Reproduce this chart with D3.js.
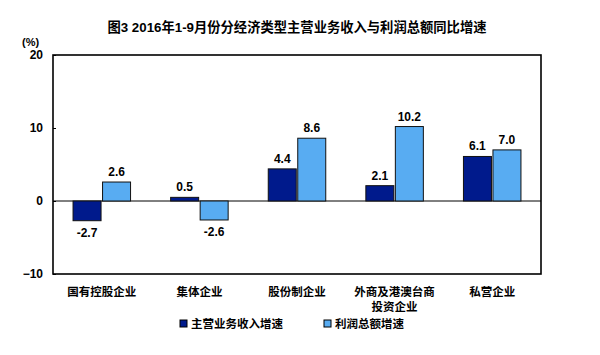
<!DOCTYPE html>
<html><head><meta charset="utf-8">
<script src="https://cdn.jsdelivr.net/npm/d3@7"></script>
<style>
html,body{margin:0;padding:0;background:#fff;}
text{font-family:"Liberation Sans","Noto Sans CJK SC",sans-serif;}
</style></head>
<body>
<svg id="c" width="600" height="355"></svg>
<script>
const categories = ["国有控股企业","集体企业","股份制企业","外商及港澳台商|投资企业","私营企业"];
const revenueGrowth = [-2.7, 0.5, 4.4, 2.1, 6.1];
const profitGrowth = [2.6, -2.6, 8.6, 10.2, 7.0];
const seriesNames = ["主营业务收入增速","利润总额增速"];
const yTicks = [20, 10, 0, -10];
const title = "图3 2016年1-9月份分经济类型主营业务收入与利润总额同比增速";

const colors = ["#001a8c", "#58acf2"];
const svg = d3.select("#c");
const m = {left:53, right:541, top:55, bottom:274};

const x = d3.scaleBand().domain(categories).range([m.left, m.right]);
const y = d3.scaleLinear().domain([-10, 20]).range([m.bottom, m.top]);
const barW = 28, gap = 1.5;

svg.append("rect").attr("width",600).attr("height",355).attr("fill","#fff");

// title
svg.append("text").attr("x",297).attr("y",32).attr("text-anchor","middle")
  .attr("font-size",13.3).attr("font-weight","bold").text(title);

// unit
svg.append("text").attr("x",22).attr("y",46).attr("font-size",11).attr("font-weight","bold").text("(%)");

// zero line
svg.append("line").attr("x1",m.left).attr("x2",m.right).attr("y1",y(0)).attr("y2",y(0))
  .attr("stroke","#000").attr("stroke-width",1);

// bars
const series = [revenueGrowth, profitGrowth];
series.forEach((vals, si) => {
  const g = svg.append("g");
  g.selectAll("rect").data(vals).join("rect")
    .attr("x", (d,i) => x.bandwidth()/2 + x(categories[i]) - barW - gap/2 + si*(barW+gap))
    .attr("y", d => y(Math.max(0,d)))
    .attr("width", barW)
    .attr("height", d => Math.abs(y(d)-y(0)))
    .attr("fill", colors[si]).attr("stroke","#111").attr("stroke-width",1);
  g.selectAll("text").data(vals).join("text")
    .attr("x", (d,i) => x.bandwidth()/2 + x(categories[i]) - barW/2 - gap/2 + si*(barW+gap))
    .attr("y", d => d >= 0 ? y(d) - 6 : y(d) + 16)
    .attr("text-anchor","middle").attr("font-size",12).attr("font-weight","bold")
    .text(d => d.toFixed(1));
});

// frame
svg.append("rect").attr("x",m.left).attr("y",m.top).attr("width",m.right-m.left).attr("height",m.bottom-m.top)
  .attr("fill","none").attr("stroke","#000").attr("stroke-width",1.6);

// y axis
const yAxis = d3.axisLeft(y).tickValues(yTicks).tickSize(-3).tickPadding(10).tickFormat(d3.format("d"));
const ya = svg.append("g").attr("transform",`translate(${m.left},0)`).call(yAxis);
ya.select(".domain").remove();
ya.selectAll("text").attr("font-size",12).attr("font-weight","bold").attr("fill","#000")
  .style("font-family",'"Liberation Sans",sans-serif');
ya.selectAll("line").attr("stroke","#000");

// category labels
categories.forEach(c => {
  const lines = c.split("|");
  const t = svg.append("text").attr("x", x(c)+x.bandwidth()/2).attr("y",296)
    .attr("text-anchor","middle").attr("font-size",11.5).attr("font-weight","bold");
  lines.forEach((l,k) => t.append("tspan").attr("x", x(c)+x.bandwidth()/2).attr("dy", k===0?0:15).text(l));
});

// legend
const legX = [180, 324];
seriesNames.forEach((n,i) => {
  svg.append("rect").attr("x",legX[i]).attr("y",320).attr("width",7).attr("height",7)
    .attr("fill",colors[i]).attr("stroke","#000").attr("stroke-width",1);
  svg.append("text").attr("x",legX[i]+11).attr("y",328).attr("font-size",11.5).attr("font-weight","bold").text(n);
});
</script>
</body></html>
